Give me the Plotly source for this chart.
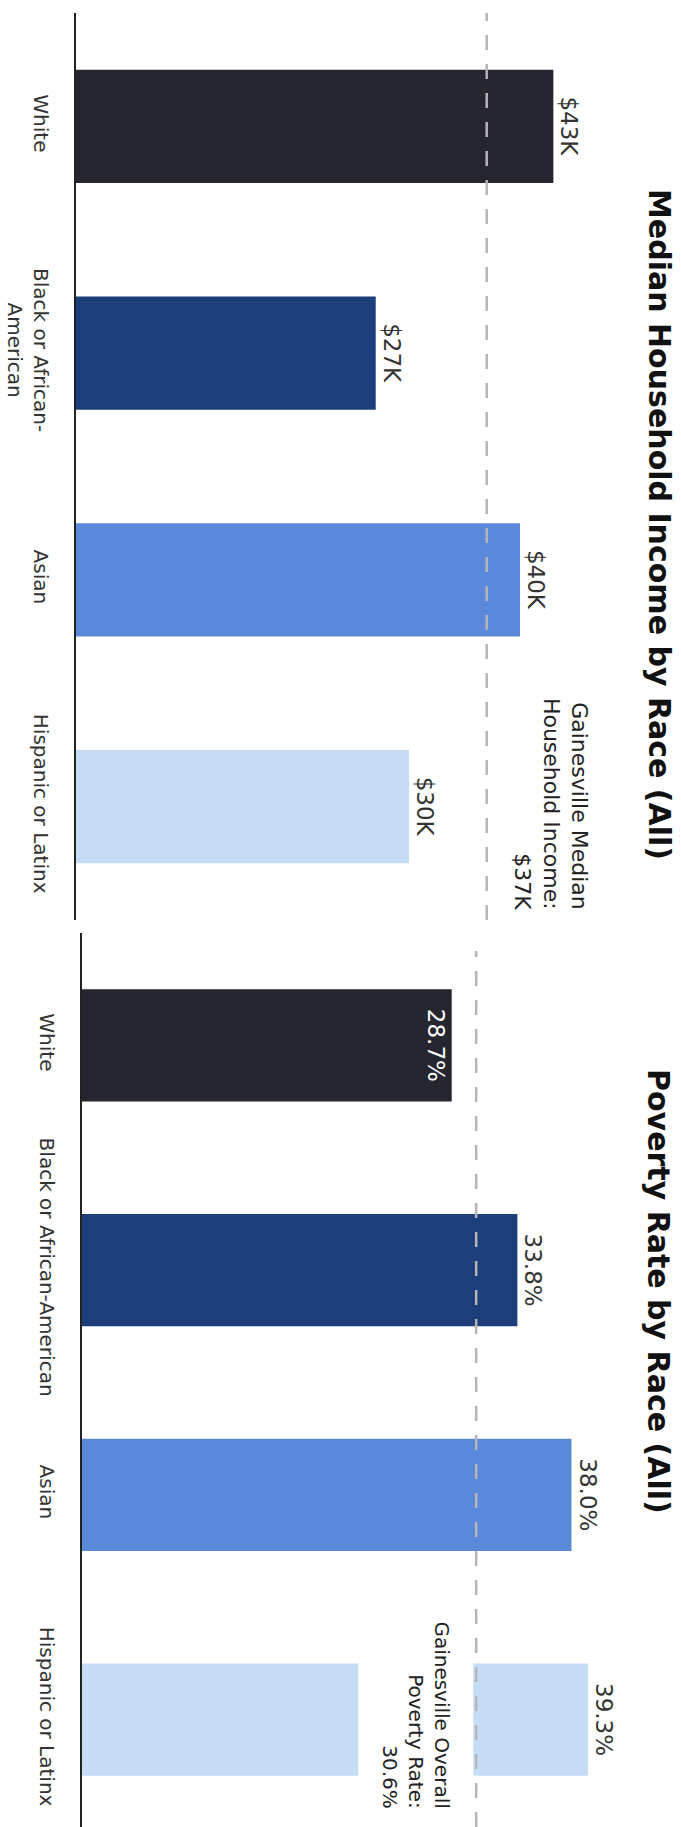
import plotly.graph_objects as go

# ---------------- data ----------------
races = ["White", "Black or African-American", "Asian", "Hispanic or Latinx"]
income_tick_labels = ["White", "Black or African-<br>American", "Asian", "Hispanic or Latinx"]
poverty_tick_labels = ["White", "Black or African-American", "Asian", "Hispanic or Latinx"]
income_values = [43000, 27000, 40000, 30000]
income_labels = ["$43K", "$27K", "$40K", "$30K"]
income_overall = 37000
income_overall_label = "Gainesville Median<br>Household Income:<br>$37K"
poverty_values = [28.7, 33.8, 38.0, 39.3]
poverty_labels = ["28.7%", "33.8%", "38.0%", "39.3%"]
poverty_overall = 30.6
poverty_overall_label = "Gainesville Overall<br>Poverty Rate:<br>30.6%"
title_income = "Median Household Income by Race (All)"
title_poverty = "Poverty Rate by Race (All)"
bar_colors = ["#25262f", "#1c3f7b", "#5a89d9", "#c5dcf7"]

FONT = "DejaVu Sans"
W, H = 681, 1827

fig = go.Figure()

fig.add_trace(go.Bar(
    x=income_values, y=races, orientation="h",
    marker=dict(color=bar_colors, line=dict(width=0)),
    width=0.5,
    text=income_labels, textposition="outside", textangle=90,
    textfont=dict(family=FONT, size=23, color="#333333"),
    cliponaxis=False, hoverinfo="skip",
    xaxis="x", yaxis="y",
))

fig.add_trace(go.Bar(
    x=poverty_values, y=races, orientation="h",
    marker=dict(color=bar_colors, line=dict(width=0)),
    width=0.5,
    text=poverty_labels,
    textposition=["inside", "outside", "outside", "outside"],
    insidetextanchor="end",
    textangle=90,
    textfont=dict(family=FONT, size=23, color=["#ffffff", "#333333", "#333333", "#333333"]),
    cliponaxis=False, hoverinfo="skip",
    xaxis="x2", yaxis="y2",
))

x1_start = 76 / W
x2_start = 82 / W
fig.update_layout(
    width=W, height=H,
    margin=dict(l=0, r=0, t=0, b=0),
    paper_bgcolor="white", plot_bgcolor="white",
    showlegend=False,
    xaxis=dict(domain=[x1_start, 1], range=[0, 54500], visible=False, fixedrange=True),
    xaxis2=dict(domain=[x2_start, 1], range=[0, 46.5], visible=False, fixedrange=True),
    yaxis=dict(
        domain=[1 - 920 / H, 1 - 13 / H], range=[3.5, -0.5], anchor="x",
        type="category", categoryorder="array", categoryarray=races,
        tickmode="array", tickvals=races, ticktext=income_tick_labels,
        tickangle=90, ticks="outside", ticklen=16, tickcolor="rgba(0,0,0,0)",
        showline=True, linecolor="#222222", linewidth=1.5,
        showgrid=False, zeroline=False,
        tickfont=dict(family=FONT, size=20, color="#333333"),
    ),
    yaxis2=dict(
        domain=[0, 1 - 933 / H], range=[3.478, -0.5], anchor="x2",
        type="category", categoryorder="array", categoryarray=races,
        tickmode="array", tickvals=races, ticktext=poverty_tick_labels,
        tickangle=90, ticks="outside", ticklen=16, tickcolor="rgba(0,0,0,0)",
        showline=True, linecolor="#222222", linewidth=1.5,
        showgrid=False, zeroline=False,
        tickfont=dict(family=FONT, size=20, color="#333333"),
    ),
)

# reference lines
fig.add_shape(type="line", xref="x", yref="y domain", x0=income_overall, x1=income_overall,
              y0=0, y1=1, layer="above",
              line=dict(color="#b5b5b5", width=2.5, dash="15px,14px"))
fig.add_shape(type="line", xref="x2", yref="y2 domain", x0=poverty_overall, x1=poverty_overall,
              y0=0, y1=0.98, layer="above",
              line=dict(color="#b5b5b5", width=2.5, dash="15px,14px"))

# reference line annotations
fig.add_annotation(
    x=income_overall, y=races[3], xref="x", yref="y",
    text=income_overall_label, showarrow=False, textangle=90,
    xanchor="left", yanchor="middle", xshift=22, yshift=3, align="right",
    font=dict(family=FONT, size=22, color="#222222"),
)
fig.add_annotation(
    x=poverty_overall, y=races[3], xref="x2", yref="y2",
    text=poverty_overall_label, showarrow=False, textangle=90,
    xanchor="right", yanchor="middle", xshift=-2, yshift=5, align="right",
    bgcolor="white", borderpad=19,
    font=dict(family=FONT, size=20, color="#222222"),
)

# titles (rotated)
fig.add_annotation(
    x=659 / W, y=1 - 524 / H, xref="paper", yref="paper",
    text="<b>" + title_income + "</b>", showarrow=False, textangle=90,
    xanchor="center", yanchor="middle",
    font=dict(family=FONT, size=30, color="#111111"),
)
fig.add_annotation(
    x=659 / W, y=1 - 1291 / H, xref="paper", yref="paper",
    text="<b>" + title_poverty + "</b>", showarrow=False, textangle=90,
    xanchor="center", yanchor="middle",
    font=dict(family=FONT, size=30, color="#111111"),
)

fig.write_html("out.html")
